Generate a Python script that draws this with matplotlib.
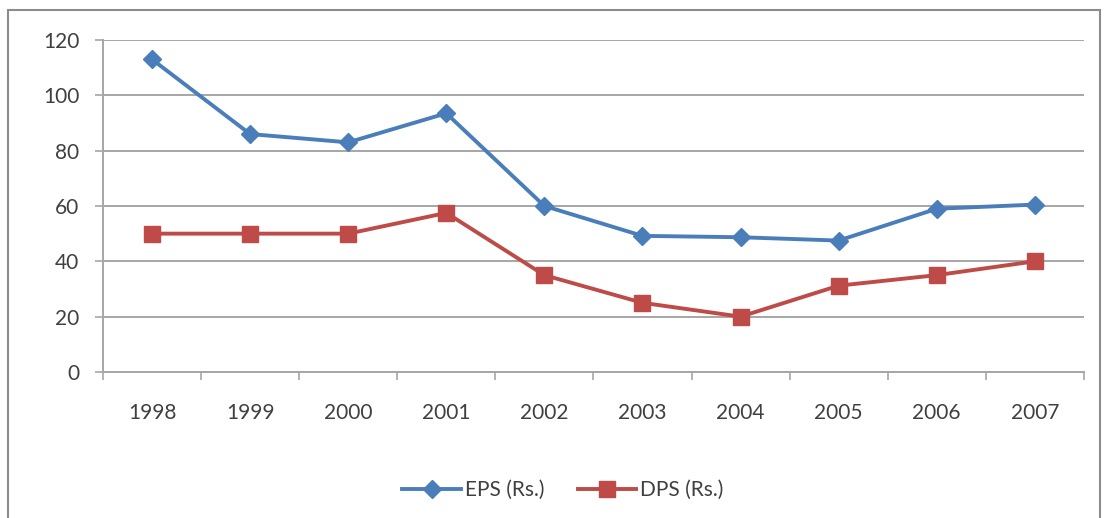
import numpy as np
import matplotlib.pyplot as plt
from matplotlib.patches import Rectangle

years = ['1998', '1999', '2000', '2001', '2002', '2003', '2004', '2005', '2006', '2007']
eps = [113, 86, 83, 93.5, 60, 49.2, 48.7, 47.5, 59, 60.5]
dps = [50, 50, 50, 57.5, 35, 25, 20, 31.2, 35, 40]

plt.rcParams['font.family'] = ['Lato', 'DejaVu Sans']

fig = plt.figure(figsize=(11.06, 5.18), dpi=100)
ax = fig.add_axes([0.0931, 0.2819, 0.8869, 0.6409])

# outer chart frame
fig.patches.append(Rectangle((8 / 1106, -0.1), 1092 / 1106, 1.1 - 10 / 518,
                             transform=fig.transFigure, fill=False,
                             edgecolor='#8c8c8c', linewidth=1.5))

x = np.arange(len(years))
ax.plot(x, eps, color='#4a7ebb', linewidth=2.8, marker='D', markersize=9,
        label='EPS (Rs.)', zorder=3)
ax.plot(x, dps, color='#be4b48', linewidth=2.8, marker='s', markersize=11.5,
        label='DPS (Rs.)', zorder=3)

ax.set_xlim(-0.5, len(years) - 0.5)
ax.set_ylim(0, 120)
ax.set_yticks(np.arange(0, 121, 20))
ax.set_xticks(x)
ax.set_xticklabels(years)
ax.set_xticks(np.arange(-0.5, len(years), 1), minor=True)
ax.yaxis.grid(True, color='#a6a6a6', linewidth=1.4)
ax.set_axisbelow(True)

for s in ['top', 'right']:
    ax.spines[s].set_visible(False)
for s in ['left', 'bottom']:
    ax.spines[s].set_color('#a6a6a6')
    ax.spines[s].set_linewidth(1.4)

ax.tick_params(axis='x', which='major', length=0, pad=22, labelsize=15, labelcolor='#404040')
ax.tick_params(axis='x', which='minor', length=6, width=1.2, color='#a6a6a6')
ax.tick_params(axis='y', length=6, width=1.2, color='#a6a6a6', pad=11,
               labelsize=15, labelcolor='#404040')

ax.legend(loc='center', bbox_to_anchor=(0.469, -0.355), ncol=2, frameon=False,
          fontsize=15, labelcolor='#404040', handlelength=2.8, columnspacing=1.6,
          handletextpad=0.2)

fig.savefig('out.png', dpi=100)
